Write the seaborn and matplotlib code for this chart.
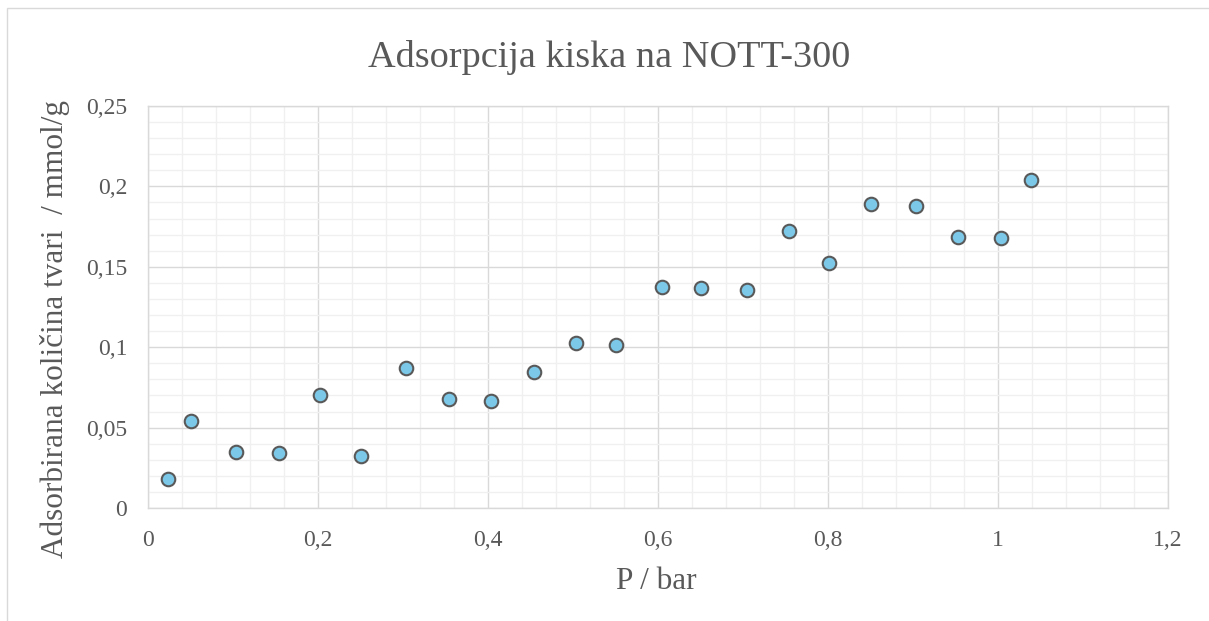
import matplotlib
matplotlib.use("Agg")
import matplotlib.pyplot as plt
import seaborn as sns
import pandas as pd
from matplotlib.ticker import MultipleLocator, FuncFormatter
from matplotlib.patches import Rectangle

# Data
pressure = [0.024, 0.050, 0.103, 0.154, 0.202, 0.250, 0.303, 0.354, 0.403, 0.454,
            0.503, 0.551, 0.605, 0.651, 0.705, 0.754, 0.801, 0.851, 0.904, 0.953,
            1.003, 1.039]
adsorbed = [0.018, 0.054, 0.035, 0.034, 0.070, 0.0325, 0.0873, 0.0676, 0.0667, 0.0844,
            0.1024, 0.1016, 0.1374, 0.1366, 0.1358, 0.172, 0.1526, 0.1888, 0.188, 0.1685,
            0.1677, 0.204]

title = "Adsorpcija kiska na NOTT-300"
xlabel = "P / bar"
ylabel = "Adsorbirana količina tvari  / mmol/g"

df = pd.DataFrame({"P": pressure, "n": adsorbed})

sns.set_theme(style="white")
plt.rcParams['font.family'] = ['Liberation Serif', 'DejaVu Serif']

TXT = "#595959"
fig = plt.figure(figsize=(12.09, 6.21), dpi=100)
W, H = 1209, 621
L, R, T, B = 148, 1168, 106, 508
ax = fig.add_axes([L / W, 1 - B / H, (R - L) / W, (B - T) / H])

# outer chart border
fig.patches.append(Rectangle((7 / W, -0.1), 1.2, 1 - 8 / H + 0.1, transform=fig.transFigure,
                             fill=False, edgecolor="#d9d9d9", linewidth=1.0))

ax.set_xlim(0, 1.2)
ax.set_ylim(0, 0.25)
ax.xaxis.set_major_locator(MultipleLocator(0.2))
ax.xaxis.set_minor_locator(MultipleLocator(0.04))
ax.yaxis.set_major_locator(MultipleLocator(0.05))
ax.yaxis.set_minor_locator(MultipleLocator(0.01))
ax.grid(which="minor", color="#f0f0f0", linewidth=1.0, zorder=0)
ax.grid(which="major", color="#d9d9d9", linewidth=1.0, zorder=0)
ax.set_axisbelow(True)

def fmt(v, pos):
    s = f"{v:.2f}".rstrip("0").rstrip(".")
    return s.replace(".", ",")

ax.xaxis.set_major_formatter(FuncFormatter(fmt))
ax.yaxis.set_major_formatter(FuncFormatter(fmt))

sns.scatterplot(data=df, x="P", y="n", ax=ax, s=95, color="#7cc8e8",
                edgecolor="#595959", linewidth=1.5, zorder=3, legend=False)

for sp in ax.spines.values():
    sp.set_color("#d9d9d9")
    sp.set_linewidth(1.0)

ax.tick_params(axis="both", which="both", length=0, labelsize=17, labelcolor=TXT)
ax.tick_params(axis="x", pad=15.5)
ax.tick_params(axis="y", pad=15)

ax.set_xlabel(xlabel, fontsize=22.5, color=TXT)
ax.xaxis.label.set_va("baseline")
ax.xaxis.set_label_coords((656.5 - L) / (R - L), (B - 589) / (B - T))

ax.set_ylabel(ylabel, fontsize=22.5, color=TXT)
ax.yaxis.label.set_rotation_mode("anchor")
ax.yaxis.label.set_va("baseline")
ax.yaxis.label.set_ha("center")
ax.yaxis.set_label_coords((63 - L) / (R - L), (B - 329) / (B - T))

fig.text(609.5 / W, 1 - 67 / H, title, fontsize=27.5, color=TXT, ha="center", va="baseline")

fig.savefig("out.png", dpi=100, facecolor="white")
